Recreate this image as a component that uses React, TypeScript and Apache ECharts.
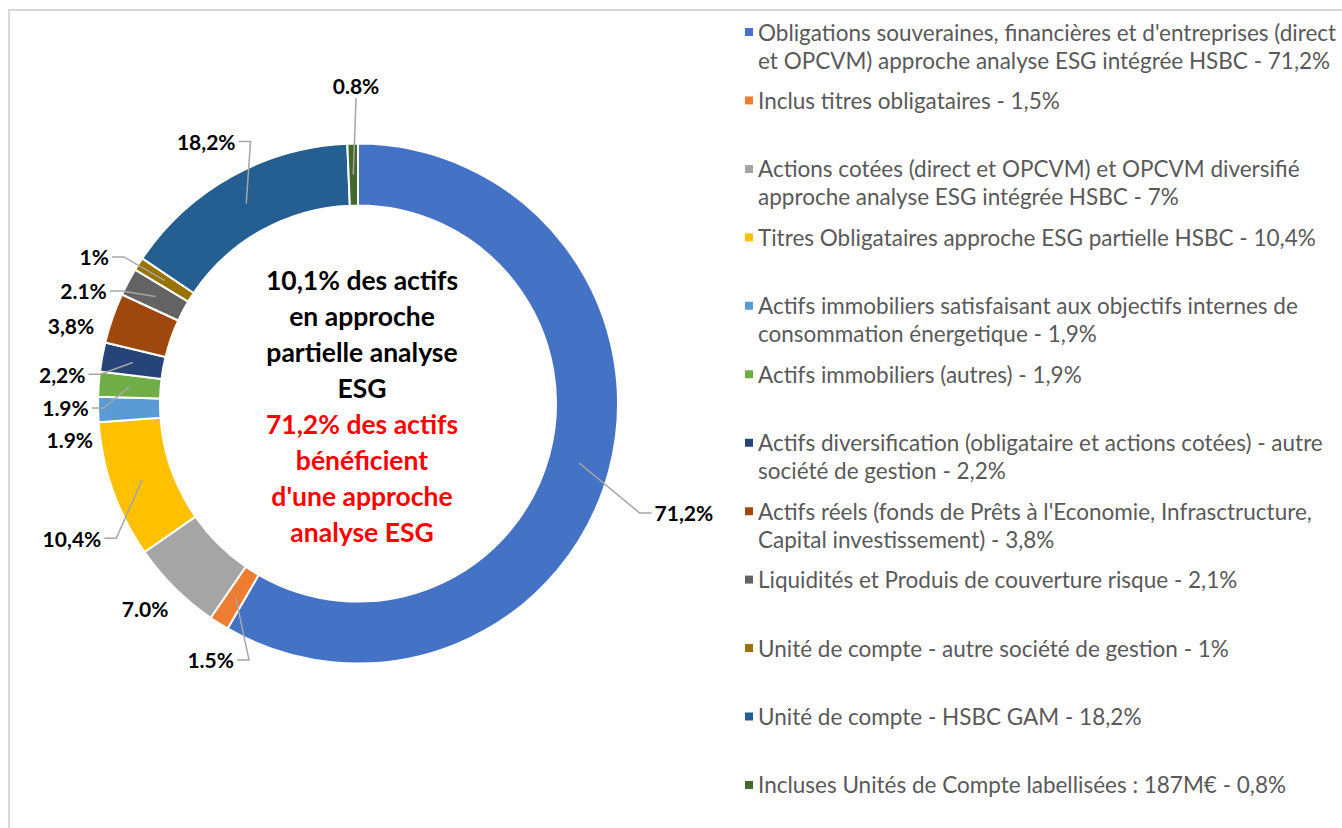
import React, { useEffect, useRef } from "react";
import * as echarts from "echarts";

const categories = [
  "Obligations souveraines, financières et d'entreprises (direct et OPCVM) approche analyse ESG intégrée HSBC - 71,2%",
  "Inclus titres obligataires - 1,5%",
  "Actions cotées (direct et OPCVM) et OPCVM diversifié approche analyse ESG intégrée HSBC - 7%",
  "Titres Obligataires approche ESG partielle HSBC - 10,4%",
  "Actifs immobiliers satisfaisant aux objectifs internes de consommation énergetique - 1,9%",
  "Actifs immobiliers (autres) - 1,9%",
  "Actifs diversification (obligataire et actions cotées) - autre société de gestion - 2,2%",
  "Actifs réels (fonds de Prêts à l'Economie, Infrasctructure, Capital investissement) - 3,8%",
  "Liquidités et Produis de couverture risque - 2,1%",
  "Unité de compte - autre société de gestion - 1%",
  "Unité de compte - HSBC GAM - 18,2%",
  "Incluses Unités de Compte labellisées : 187M€ - 0,8%",
];

const legendLabels = [
  "Obligations souveraines, financières et d'entreprises (direct\net OPCVM) approche analyse ESG intégrée HSBC - 71,2%",
  "Inclus titres obligataires - 1,5%",
  "Actions cotées (direct et OPCVM) et OPCVM diversifié\napproche analyse ESG intégrée HSBC - 7%",
  "Titres Obligataires approche ESG partielle HSBC - 10,4%",
  "Actifs immobiliers satisfaisant aux objectifs internes de\nconsommation énergetique - 1,9%",
  "Actifs immobiliers (autres) - 1,9%",
  "Actifs diversification (obligataire et actions cotées) - autre\nsociété de gestion - 2,2%",
  "Actifs réels (fonds de Prêts à l'Economie, Infrasctructure,\nCapital investissement) - 3,8%",
  "Liquidités et Produis de couverture risque - 2,1%",
  "Unité de compte - autre société de gestion - 1%",
  "Unité de compte - HSBC GAM - 18,2%",
  "Incluses Unités de Compte labellisées : 187M€ - 0,8%",
];

const values = [71.2, 1.5, 7.0, 10.4, 1.9, 1.9, 2.2, 3.8, 2.1, 1, 18.2, 0.8];

const pieLabels = ["71,2%", "1.5%", "7.0%", "10,4%", "1.9%", "1.9%", "2,2%", "3,8%", "2.1%", "1%", "18,2%", "0.8%"];

// which labels show a leader line (Excel hides the ones sitting next to their slice)
const showLeader = [true, true, false, true, false, true, true, false, true, true, true, true];

const colors = [
  "#4472C4", "#ED7D31", "#A5A5A5", "#FFC000", "#5B9BD5", "#70AD47",
  "#264478", "#9E480E", "#636363", "#997300", "#255E91", "#43682B",
];

// label nudges (layout only), applied on top of ECharts' own outside placement
const labelNudges: [number, number][] = [
  [11, 38], [43, 24], [22, 10], [18, 43], [25, 30], [20, 25],
  [13, 20], [11, 12], [9, 12], [-2, 1], [27, -22], [47, -43],
];

const centerBlack = "10,1% des actifs\nen approche\npartielle analyse\nESG";
const centerRed = "71,2% des actifs\nbénéficient\nd'une approche\nanalyse ESG";

const FONT = "Lato";
const SQUARE = "path://M0,0L8,0L8,8L0,8Z";
const SQUARE_TOP = "path://M0,0L8,0L8,8L0,8ZM0,36L8,36";

const CX = 358;
const CY = 403.5;
const R_IN = 198;
const R_OUT = 260;

export default function App() {
  const ref = useRef<HTMLDivElement>(null);
  useEffect(() => {
    if (!ref.current) return;
    const chart = echarts.init(ref.current, undefined, { renderer: "svg" });
    const legends = categories.map((c, i) => {
      const twoLines = legendLabels[i].includes("\n");
      const firstLineY = 32 + i * 68.45;
      return {
        data: [c],
        orient: "vertical",
        left: 745,
        top: firstLineY - 14,
        padding: 0,
        icon: twoLines ? SQUARE_TOP : SQUARE,
        itemWidth: 8,
        itemHeight: twoLines ? 36 : 8,
        itemStyle: { borderWidth: 0 },
        selectedMode: false,
        formatter: () => legendLabels[i],
        textStyle: {
          fontFamily: FONT,
          fontSize: 22.5,
          color: "#595959",
          lineHeight: 28,
        },
      };
    });

    const labelLayout = (p: any) => {
      const i = p.dataIndex;
      const [dx, dy] = labelNudges[i];
      const r = p.labelRect;
      const x = r.x + dx;
      const y = r.y + dy;
      const w = r.width;
      const h = r.height;
      const out: any = { dx, dy };
      const pts = p.labelLinePoints;
      if (pts && pts.length) {
        const ox = pts[0][0] - CX;
        const oy = pts[0][1] - CY;
        const len = Math.sqrt(ox * ox + oy * oy) || 1;
        const midR = (R_IN + R_OUT) / 2;
        const sx = CX + (ox / len) * midR;
        const sy = CY + (oy / len) * midR;
        let linePts: number[][];
        if (x + w < sx) {
          const ex = x + w + 3;
          const ey = y + h / 2;
          linePts = [[sx, sy], [ex + 12, ey], [ex, ey]];
        } else if (x > sx) {
          const ex = x - 3;
          const ey = y + h / 2;
          linePts = [[sx, sy], [ex - 12, ey], [ex, ey]];
        } else {
          const ex = x + w / 2;
          const ey = sy < y ? y - 2 : y + h + 2;
          linePts = [[sx, sy], [ex, ey]];
        }
        out.labelLinePoints = linePts;
      }
      return out;
    };

    const pieData = categories.map((c, i) => ({ name: c, value: values[i] }));

    chart.setOption({
      animation: false,
      color: colors,
      legend: legends,
      graphic: [
        {
          type: "rect",
          shape: { x: 9, y: 10, width: 1400, height: 900 },
          style: { fill: "none", stroke: "#D9D9D9", lineWidth: 2 },
          silent: true,
        },
        {
          type: "text",
          x: 362,
          y: 262,
          style: {
            text: centerBlack,
            fill: "#000000",
            font: `bold 26.5px ${FONT}`,
            align: "center",
            verticalAlign: "top",
            lineHeight: 36,
          },
        },
        {
          type: "text",
          x: 362,
          y: 406,
          style: {
            text: centerRed,
            fill: "#FF0000",
            font: `bold 26.5px ${FONT}`,
            align: "center",
            verticalAlign: "top",
            lineHeight: 36,
          },
        },
      ],
      series: [
        {
          type: "pie",
          name: "ring",
          z: 2,
          center: [CX, CY],
          radius: [R_IN, R_OUT],
          startAngle: 90,
          clockwise: true,
          itemStyle: { borderColor: "#ffffff", borderWidth: 2 },
          label: { show: false },
          labelLine: { show: false },
          emphasis: { disabled: true },
          data: pieData,
        },
        {
          type: "pie",
          name: "labels",
          z: 3,
          silent: true,
          center: [CX, CY],
          radius: [R_IN, R_OUT],
          startAngle: 90,
          clockwise: true,
          avoidLabelOverlap: true,
          itemStyle: { color: "rgba(0,0,0,0)", borderWidth: 0 },
          label: {
            show: true,
            position: "outside",
            formatter: (p: any) => pieLabels[p.dataIndex],
            fontFamily: FONT,
            fontWeight: "bold",
            fontSize: 21,
            color: "#000000",
          },
          labelLine: {
            show: true,
            length: 15,
            length2: 15,
            lineStyle: { color: "#A6A6A6", width: 1.5 },
          },
          labelLayout,
          emphasis: { disabled: true },
          data: pieData.map((d, i) => ({ ...d, labelLine: { show: showLeader[i] } })),
        },
      ],
    });
    return () => chart.dispose();
  }, []);
  return (
    <div
      ref={ref}
      style={{ position: "fixed", left: 0, top: 0, width: 1342, height: 828, background: "#fff" }}
    />
  );
}
